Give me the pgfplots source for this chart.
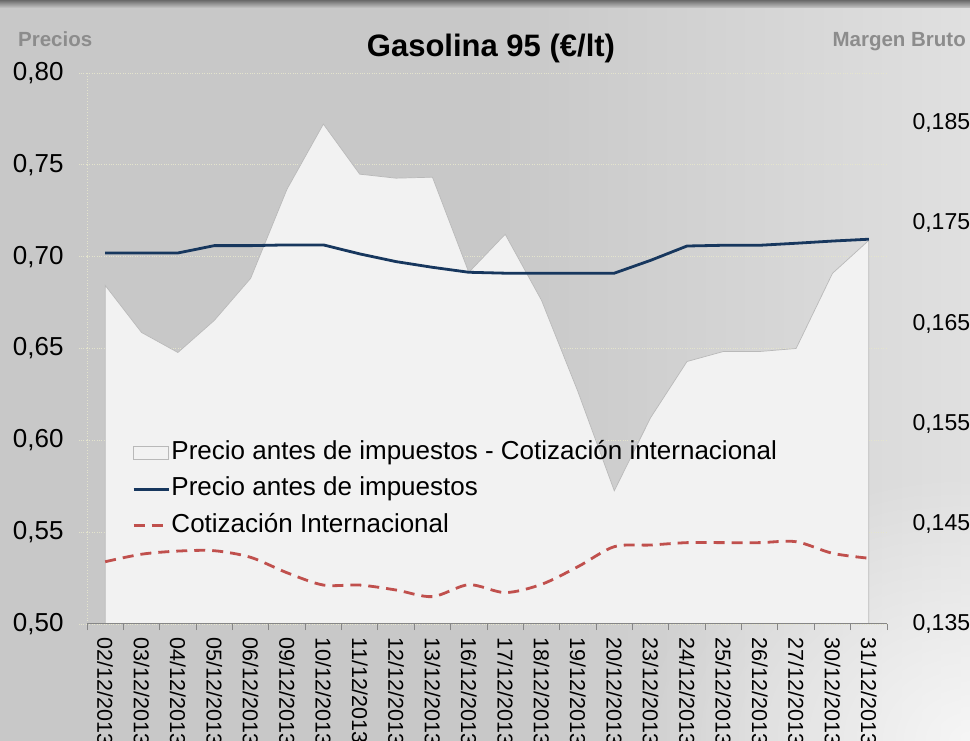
\documentclass[border=0pt]{standalone}
\usepackage{fontspec}
\setmainfont{Liberation Sans}
\usepackage{pgfplots}
\pgfplotsset{compat=1.18}
\usetikzlibrary{fadings}
\tikzfading[name=myfade, inner color=transparent!0, outer color=transparent!100]
\definecolor{bgA}{RGB}{200,200,200}
\definecolor{bgB}{RGB}{224,224,224}
\definecolor{topD}{RGB}{105,105,105}
\definecolor{areaF}{RGB}{242,242,242}
\definecolor{areaD}{RGB}{185,185,185}
\definecolor{navy}{RGB}{23,55,94}
\definecolor{redd}{RGB}{192,80,77}
\definecolor{gridc}{RGB}{228,228,205}
\definecolor{labg}{RGB}{140,140,140}
\definecolor{axisg}{RGB}{134,134,134}
\begin{document}
\begin{tikzpicture}
% background
\fill[bgA] (0bp,0bp) rectangle (500bp,741bp);
\shade[left color=bgA, right color=bgB] (500bp,0bp) rectangle (970bp,741bp);
\shade[top color=topD, bottom color=bgA] (0bp,733bp) rectangle (970bp,741bp);
\fill[white, opacity=0.7, path fading=myfade] (970bp,0bp) ellipse (330bp and 270bp);
% titles
\node[anchor=base, inner sep=0pt, font=\fontsize{31bp}{34bp}\bfseries\selectfont] at (491bp,684.3bp) {Gasolina 95 (€/lt)};
\node[anchor=base west, inner sep=0pt, text=labg, font=\fontsize{20.5bp}{23bp}\bfseries\selectfont] at (18bp,694.3bp) {Precios};
\node[anchor=base east, inner sep=0pt, text=labg, font=\fontsize{20.5bp}{23bp}\bfseries\selectfont] at (966bp,694.3bp) {Margen Bruto};

% axis A: grid + left labels
\begin{axis}[at={(87bp,117bp)}, anchor=south west, scale only axis,
  width=800bp, height=551bp,
  xmin=-0.5, xmax=21.5, ymin=0.5, ymax=0.8,
  ytick={0.5,0.55,0.6,0.65,0.7,0.75,0.8},
  yticklabels={{0,50},{0,55},{0,60},{0,65},{0,70},{0,75},{0,80}},
  ymajorgrids, grid style={gridc, dotted, line width=0.8bp},
  axis x line=none, axis y line*=left,
  y axis line style={draw=gridc, dotted, line width=0.8bp, -},
  ytick style={draw=gridc, dotted, line width=0.8bp},
  tick align=outside, major tick length=8bp,
  yticklabel style={font=\fontsize{26bp}{28bp}\selectfont, text=black, anchor=east, xshift=-12bp}]
\end{axis}

% axis B: margin area on right scale
\begin{axis}[at={(87bp,117bp)}, anchor=south west, scale only axis,
  width=800bp, height=551bp,
  xmin=-0.5, xmax=21.5, ymin=0.135, ymax=0.19,
  ytick={0.135,0.145,0.155,0.165,0.175,0.185},
  yticklabels={{0,135},{0,145},{0,155},{0,165},{0,175},{0,185}},
  axis x line=none, axis y line*=right,
  y axis line style={draw=none}, ytick style={draw=none},
  yticklabel style={font=\fontsize{23bp}{25bp}\selectfont, text=black, anchor=west, xshift=22bp}]
\addplot[fill=areaF, draw=areaD, line width=0.7bp] coordinates {
(0,0.1688) (1,0.1641) (2,0.1621) (3,0.1653) (4,0.1695) (5,0.1784)
(6,0.1849) (7,0.1799) (8,0.1795) (9,0.1796) (10,0.1701) (11,0.1739)
(12,0.1673) (13,0.1582) (14,0.1483) (15,0.1556) (16,0.1612) (17,0.1622)
(18,0.1622) (19,0.1625) (20,0.1700) (21,0.1733)} \closedcycle;
\end{axis}

% axis C: lines, x axis, legend
\begin{axis}[at={(87bp,117bp)}, anchor=south west, scale only axis,
  width=800bp, height=551bp,
  xmin=-0.5, xmax=21.5, ymin=0.5, ymax=0.8,
  axis y line=none, axis x line*=bottom,
  x axis line style={draw=axisg, line width=1bp, -},
  xtick={0,...,21},
  xticklabels={02/12/2013,03/12/2013,04/12/2013,05/12/2013,06/12/2013,09/12/2013,10/12/2013,11/12/2013,12/12/2013,13/12/2013,16/12/2013,17/12/2013,18/12/2013,19/12/2013,20/12/2013,23/12/2013,24/12/2013,25/12/2013,26/12/2013,27/12/2013,30/12/2013,31/12/2013},
  major x tick style={draw=none},
  minor xtick={-0.5,0.5,...,21.5},
  minor x tick style={draw=axisg, line width=1bp},
  minor tick length=6bp, tick align=outside,
  xticklabel shift=6bp,
  xticklabel style={rotate=-90, anchor=west, font=\fontsize{21.5bp}{24bp}\selectfont, text=black},
  legend style={at={(0.05625,0.3376)}, anchor=north west, draw=none, fill=none,
    inner sep=0pt, font=\fontsize{26bp}{29bp}\selectfont, row sep=7.5bp,
    nodes={inner ysep=2bp, inner xsep=1.5bp, text height=19bp, text depth=6bp}},
  legend cell align=left,
  legend image code/.code={\draw[#1] (0bp,0bp) -- (35bp,0bp);}]
\addlegendimage{legend image code/.code={\draw[draw=areaD, fill=areaF, line width=0.8bp] (0bp,-6.5bp) rectangle (35bp,6.5bp);}}
\addlegendentry{Precio antes de impuestos - Cotización internacional}
\addplot[navy, line width=2.8bp] coordinates {
(0,0.702) (1,0.702) (2,0.702) (3,0.706) (4,0.706) (5,0.7064)
(6,0.7064) (7,0.7015) (8,0.6973) (9,0.6942) (10,0.6915) (11,0.691)
(12,0.691) (13,0.691) (14,0.691) (15,0.698) (16,0.7058) (17,0.7062)
(18,0.7062) (19,0.7073) (20,0.7085) (21,0.7095)};
\addlegendentry{Precio antes de impuestos}
\addplot[redd, line width=2.8bp, dash pattern=on 11bp off 7bp, smooth, tension=0.5] coordinates {
(0,0.5339) (1,0.538) (2,0.5397) (3,0.5399) (4,0.5363) (5,0.5279)
(6,0.5212) (7,0.5212) (8,0.5185) (9,0.5149) (10,0.5214) (11,0.5171)
(12,0.5216) (13,0.5312) (14,0.5421) (15,0.543) (16,0.5443) (17,0.5443)
(18,0.5443) (19,0.5448) (20,0.5385) (21,0.5358)};
\addlegendentry{Cotización Internacional}
\end{axis}
\pgfresetboundingbox
\useasboundingbox (0bp,0bp) rectangle (970bp,741bp);
\end{tikzpicture}
\end{document}
